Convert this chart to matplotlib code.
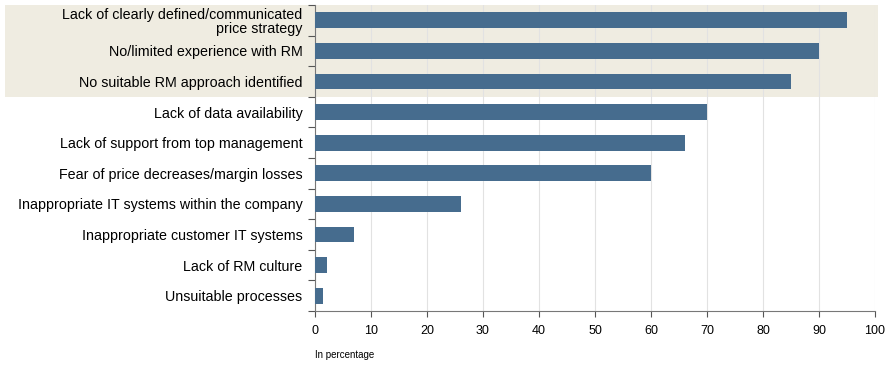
import matplotlib.pyplot as plt
from matplotlib.patches import Rectangle

categories = [
    'Lack of clearly defined/communicated\nprice strategy',
    'No/limited experience with RM',
    'No suitable RM approach identified',
    'Lack of data availability',
    'Lack of support from top management',
    'Fear of price decreases/margin losses',
    'Inappropriate IT systems within the company',
    'Inappropriate customer IT systems',
    'Lack of RM culture',
    'Unsuitable processes',
]
values = [95, 90, 85, 70, 66, 60, 26, 7, 2.2, 1.5]

plt.rcParams['font.family'] = ['Liberation Sans', 'DejaVu Sans']

fig = plt.figure(figsize=(8.87, 3.65), dpi=100)
ax = fig.add_axes([315 / 887, 54 / 365, 560 / 887, 306 / 365])

n = len(categories)
ypos = list(range(n))
ax.barh(ypos, values, height=0.52, color='#466c8e', zorder=3)
ax.set_ylim(n - 0.5, -0.5)
ax.set_xlim(0, 100)

# shaded band behind the top three categories, spanning into the label area
band = Rectangle((5 / 887, (365 - 97) / 365), (878 - 5) / 887, (97 - 5) / 365,
                 transform=fig.transFigure, facecolor='#efece1',
                 edgecolor='none', zorder=-1)
fig.patches.append(band)
ax.set_facecolor('none')

ax.set_xticks(range(0, 101, 10))
ax.tick_params(axis='x', labelsize=9, length=4, color='#555555', pad=6)
ax.set_yticks([i - 0.5 for i in range(n + 1)], minor=False)
ax.set_yticklabels([])
ax.set_yticks(ypos, minor=True)
ax.set_yticklabels(categories, minor=True, fontsize=10.3, linespacing=1.05)
ax.tick_params(axis='y', which='major', length=5, color='#555555')
ax.tick_params(axis='y', which='minor', length=0, pad=9)

ax.grid(axis='x', color='#e2e2e2', linewidth=0.8, zorder=0)
for s in ['top', 'right']:
    ax.spines[s].set_visible(False)
for s in ['left', 'bottom']:
    ax.spines[s].set_color('#777777')

fig.text(315 / 887, (365 - 355) / 365, 'In percentage', fontsize=7,
         ha='left', va='center')

fig.savefig('out.png', dpi=100)
